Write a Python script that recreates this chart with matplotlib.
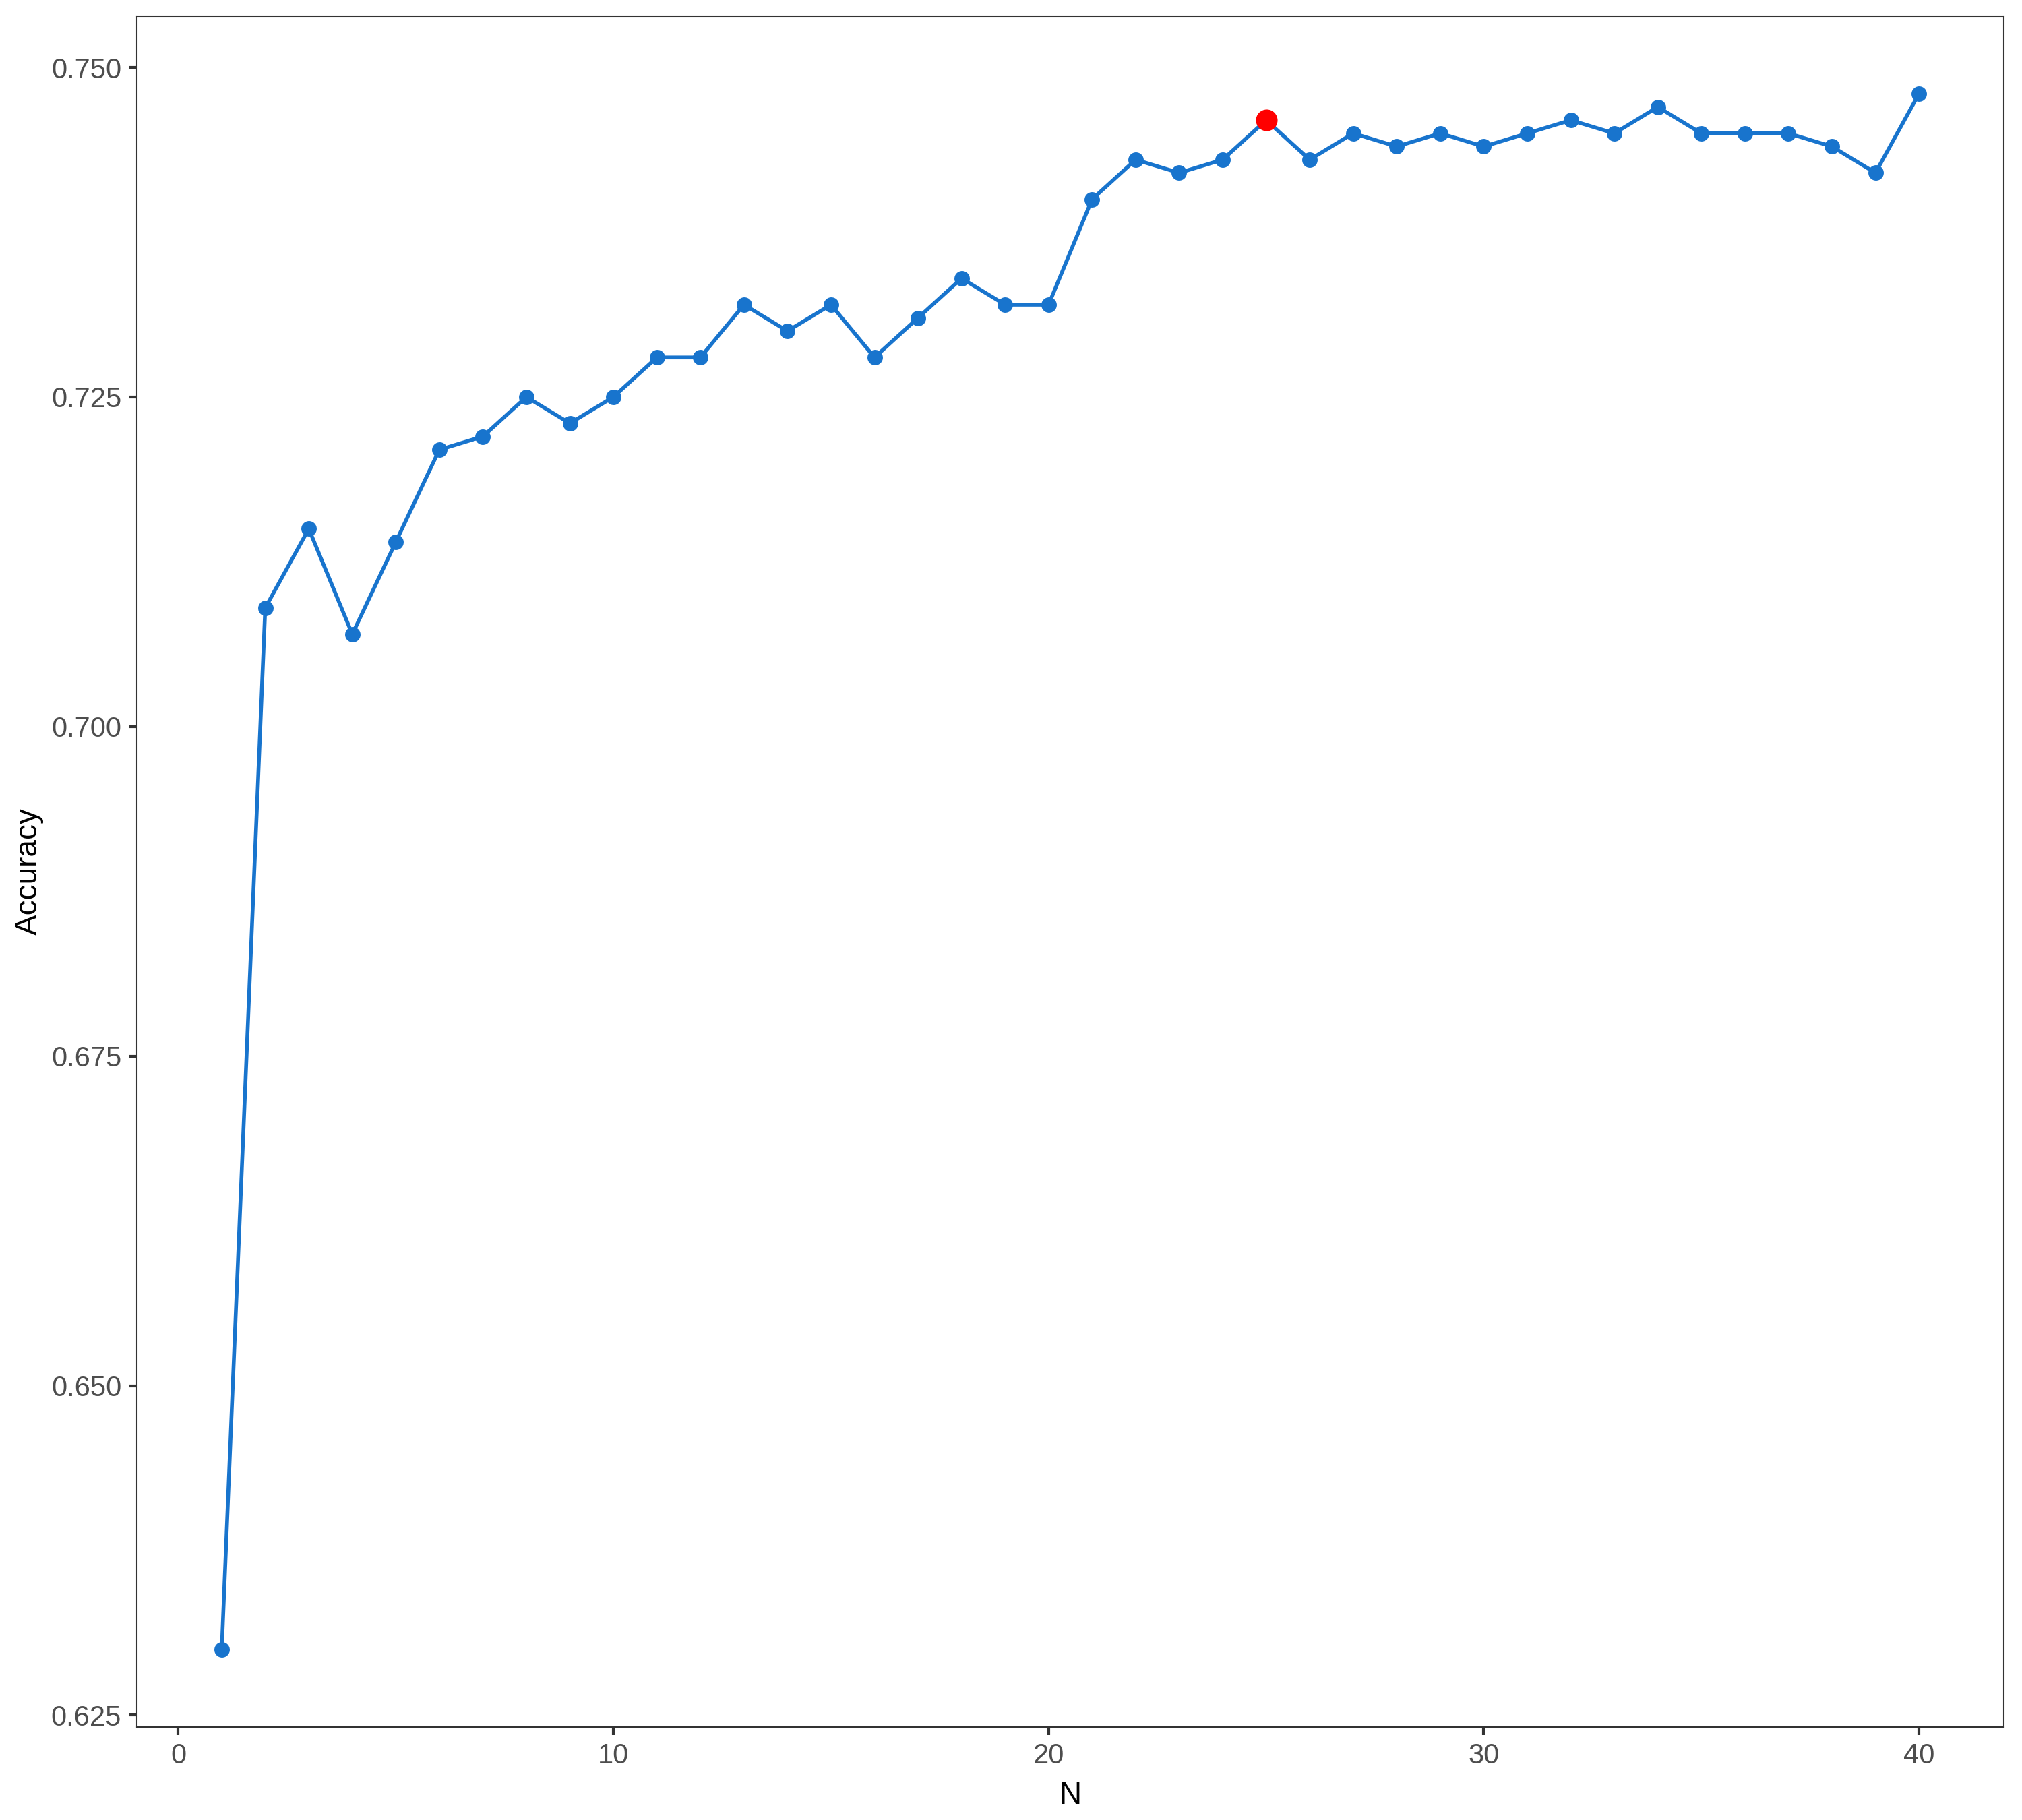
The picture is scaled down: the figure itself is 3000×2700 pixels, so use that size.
import matplotlib
matplotlib.use("Agg")
import matplotlib.pyplot as plt
import numpy as np

plt.rcParams['font.family'] = ['Liberation Sans', 'DejaVu Sans']

n_values = list(range(1, 41))
accuracy = [0.630, 0.709, 0.715, 0.707, 0.714, 0.721, 0.722, 0.725, 0.723, 0.725,
            0.728, 0.728, 0.732, 0.730, 0.732, 0.728, 0.731, 0.734, 0.732, 0.732,
            0.740, 0.743, 0.742, 0.743, 0.746, 0.743, 0.745, 0.744, 0.745, 0.744,
            0.745, 0.746, 0.745, 0.747, 0.745, 0.745, 0.745, 0.744, 0.742, 0.748]
highlight_n = 25
x_ticks = [0, 10, 20, 30, 40]
y_ticks = [0.625, 0.650, 0.675, 0.700, 0.725, 0.750]

blue = '#1874CD'
fig = plt.figure(figsize=(10, 9), dpi=300)
ax = fig.add_axes([0.0677, 0.0511, 0.9233, 0.9401])

ax.plot(n_values, accuracy, color=blue, lw=1.35, zorder=2)
ax.plot(n_values, accuracy, 'o', color=blue, ms=5.5, mec='none', zorder=3)
hi = n_values.index(highlight_n)
ax.plot([n_values[hi]], [accuracy[hi]], 'o', color='#FF0000', ms=7.7, mec='none', zorder=4)

xr = max(n_values) - min(n_values)
ax.set_xlim(min(n_values) - 0.05 * xr, max(n_values) + 0.05 * xr)
yr = max(accuracy) - min(accuracy)
ax.set_ylim(min(accuracy) - 0.05 * yr, max(accuracy) + 0.05 * yr)

ax.set_xticks(x_ticks)
ax.set_xticklabels([str(v) for v in x_ticks])
ax.set_yticks(y_ticks)
ax.set_yticklabels([f"{v:.3f}" for v in y_ticks])

ax.tick_params(axis='both', length=2.9, width=1.0, color='#333333',
               labelcolor='#4D4D4D', labelsize=10, pad=2.6)
for s in ax.spines.values():
    s.set_color('#333333')
    s.set_linewidth(0.5)

ax.set_xlabel('N', fontsize=11, color='black', labelpad=4)
ax.set_ylabel('Accuracy', fontsize=11, color='black', labelpad=2.5)

fig.savefig('out.png', dpi=300, facecolor='white')
